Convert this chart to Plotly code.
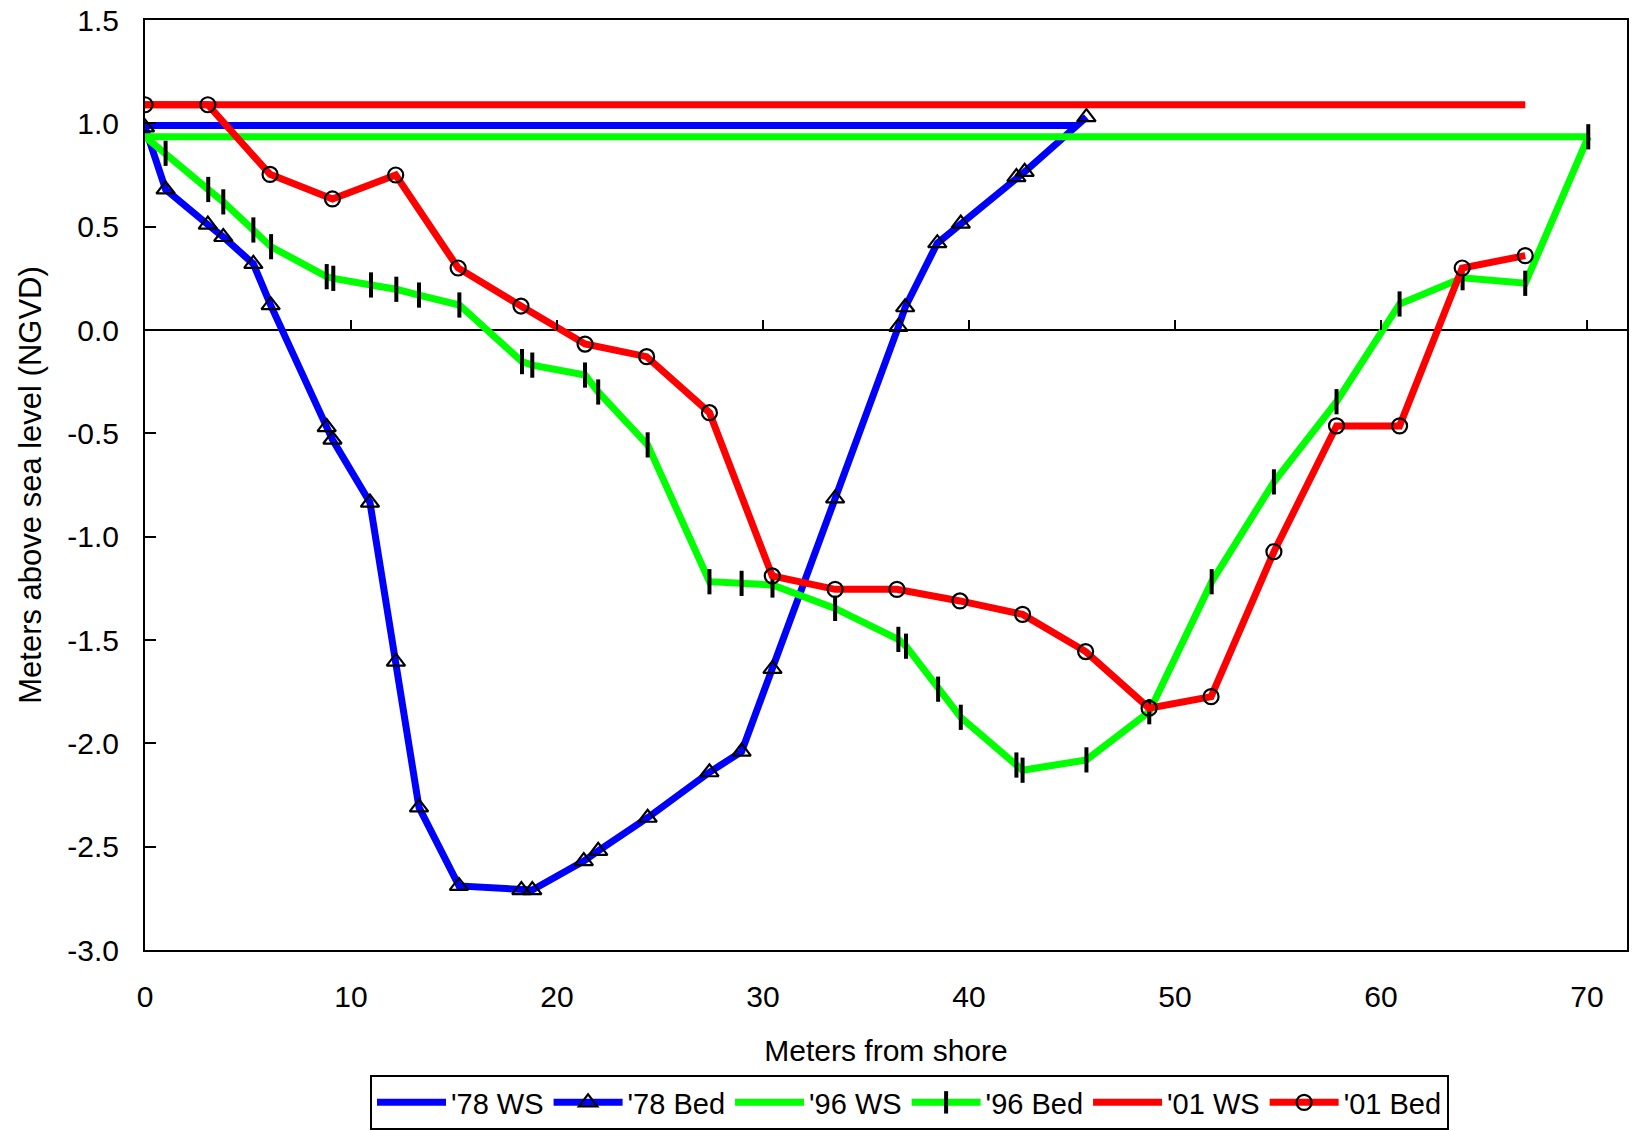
import plotly.graph_objects as go

# ---------------- data ----------------
WS78_X = [0, 45.2]
WS78_Y = [0.99, 0.99]

BED78_X = [0, 1.0, 3.05, 3.8, 5.26, 6.1, 8.82, 9.1, 10.92, 12.18, 13.3, 15.24, 18.27, 18.8,
           21.3, 22.0, 24.4, 27.4, 28.96, 30.46, 33.5, 36.57, 36.9, 38.46, 39.6, 42.3, 42.7, 45.7]
BED78_Y = [0.98, 0.68, 0.51, 0.45, 0.32, 0.12, -0.47, -0.53, -0.835, -1.605, -2.31, -2.69, -2.71, -2.71,
           -2.57, -2.52, -2.36, -2.14, -2.04, -1.64, -0.815, 0.015, 0.11, 0.42, 0.515, 0.74, 0.765, 1.03]

WS96_X = [0, 70.06]
WS96_Y = [0.935, 0.935]

BED96_X = [0, 1.0, 3.07, 3.8, 5.26, 6.12, 8.82, 9.14, 10.97, 12.2, 13.3, 15.26, 18.3, 18.8,
           21.36, 22.0, 24.4, 27.4, 28.96, 30.46, 33.5, 36.57, 36.94, 38.5, 39.6, 42.3, 42.6,
           45.7, 48.75, 51.78, 54.8, 57.84, 60.9, 63.96, 67.0, 70.06]
BED96_Y = [0.935, 0.855, 0.68, 0.62, 0.484, 0.403, 0.258, 0.25, 0.218, 0.197, 0.169, 0.121, -0.153, -0.17,
           -0.218, -0.30, -0.556, -1.218, -1.226, -1.234, -1.347, -1.497, -1.53, -1.738, -1.874, -2.105, -2.13,
           -2.08, -1.847, -1.218, -0.735, -0.347, 0.126, 0.253, 0.226, 0.935]

WS01_X = [0, 67.0]
WS01_Y = [1.09, 1.09]

BED01_X = [0, 3.05, 6.07, 9.1, 12.17, 15.2, 18.25, 21.36, 24.35, 27.4, 30.45, 33.5, 36.5,
           39.56, 42.6, 45.66, 48.74, 51.75, 54.8, 57.84, 60.9, 63.94, 67.0]
BED01_Y = [1.09, 1.09, 0.753, 0.634, 0.75, 0.30, 0.116, -0.068, -0.129, -0.40, -1.19, -1.255, -1.255,
           -1.311, -1.376, -1.556, -1.83, -1.774, -1.073, -0.464, -0.464, 0.30, 0.36]

X_TICKS = [0, 10, 20, 30, 40, 50, 60, 70]
Y_TICKS = [-3.0, -2.5, -2.0, -1.5, -1.0, -0.5, 0.0, 0.5, 1.0, 1.5]
Y_TICK_TEXT = ["-3.0", "-2.5", "-2.0", "-1.5", "-1.0", "-0.5", "0.0", "0.5", "1.0", "1.5"]

# ---------------- style ----------------
BLUE, GREEN, RED = "#0000FF", "#00FF00", "#FF0000"
FONT = "Liberation Sans, Arial, sans-serif"
LW = 7

W, H = 1636, 1131
ML, MR, MT, MB = 145, 9, 20, 181
PW, PH = W - ML - MR, H - MT - MB

def px_to_paper_x(px):
    return (px - ML) / PW

def px_to_paper_y(py):
    return (H - MB - py) / PH

fig = go.Figure()

def ws(x, y, name, color):
    fig.add_trace(go.Scatter(x=x, y=y, name=name, mode="lines",
                             line=dict(color=color, width=LW)))

ws(WS78_X, WS78_Y, "'78 WS", BLUE)
fig.add_trace(go.Scatter(x=BED78_X, y=BED78_Y, name="'78 Bed", mode="lines+markers",
                         line=dict(color=BLUE, width=LW),
                         marker=dict(symbol="triangle-up-open", size=16, color="black",
                                     line=dict(color="black", width=2.2))))
ws(WS96_X, WS96_Y, "'96 WS", GREEN)
bed96_sizes = [0] + [18] * (len(BED96_X) - 1)
fig.add_trace(go.Scatter(x=BED96_X, y=BED96_Y, name="'96 Bed", mode="lines+markers",
                         line=dict(color=GREEN, width=LW),
                         marker=dict(symbol="line-ns-open", size=bed96_sizes, color="black",
                                     opacity=1, line=dict(color="black", width=4))))
ws(WS01_X, WS01_Y, "'01 WS", RED)
fig.add_trace(go.Scatter(x=BED01_X, y=BED01_Y, name="'01 Bed", mode="lines+markers",
                         line=dict(color=RED, width=LW),
                         marker=dict(symbol="circle-open", size=15, color="black",
                                     line=dict(color="black", width=2.2))))

# tick marks on the zero line (category axis crosses at 0)
for v in X_TICKS[1:]:
    fig.add_shape(type="line", xref="x", yref="y", x0=v, x1=v,
                  ysizemode="pixel", yanchor=0, y0=0, y1=10,
                  line=dict(color="black", width=2))

# legend box (pixels) and its drop shadow
LEG_L, LEG_T, LEG_R, LEG_B = 370, 1075, 1443, 1127
SH = 3
fig.add_shape(type="rect", xref="paper", yref="paper",
              x0=px_to_paper_x(LEG_L + SH), x1=px_to_paper_x(LEG_R + SH),
              y0=px_to_paper_y(LEG_T + SH), y1=px_to_paper_y(LEG_B + SH),
              fillcolor="black", line=dict(width=0), layer="below")

fig.update_layout(
    width=W, height=H,
    margin=dict(l=ML, r=MR, t=MT, b=MB),
    paper_bgcolor="white", plot_bgcolor="white",
    font=dict(family=FONT, size=30, color="black"),
    showlegend=True,
    legend=dict(orientation="h", xref="container", yref="container",
                x=LEG_L / W, xanchor="left",
                y=(H - LEG_T) / H, yanchor="top",
                bordercolor="black", borderwidth=2, bgcolor="white",
                font=dict(size=29), itemwidth=69, tracegroupgap=0),
    xaxis=dict(range=[0, 71.94], tickvals=X_TICKS, ticks="", showgrid=False,
               zeroline=False, showline=True, linecolor="black", linewidth=2, mirror=True,
               ticklabelstandoff=19, automargin=False,
               title=dict(text="Meters from shore", font=dict(size=30), standoff=28)),
    yaxis=dict(range=[-3.0, 1.5], tickvals=Y_TICKS, ticktext=Y_TICK_TEXT,
               ticks="inside", ticklen=11, tickwidth=2, tickcolor="black",
               showgrid=False, zeroline=True, zerolinecolor="black", zerolinewidth=2,
               showline=True, linecolor="black", linewidth=2, mirror=True,
               ticklabelstandoff=18, automargin=False,
               title=dict(text="Meters above sea level (NGVD)", font=dict(size=31), standoff=16)),
)

fig.write_html("out.html", config={"displayModeBar": False},
               post_script="document.body.style.margin='0';document.body.style.overflow='hidden';")
